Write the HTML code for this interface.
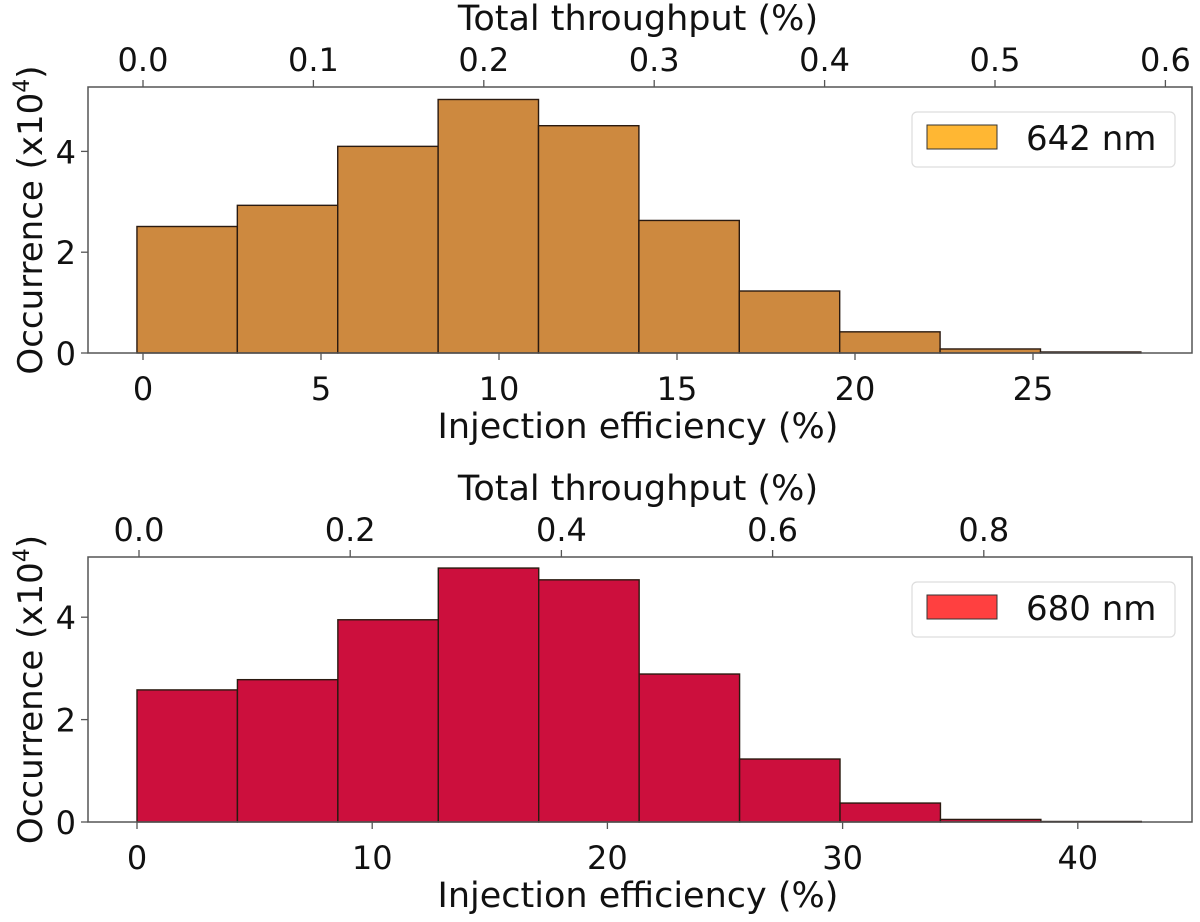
<!DOCTYPE html>
<html><head><meta charset="utf-8">
<style>
body{margin:0;background:#fff;width:1200px;height:917px;overflow:hidden}
svg text{font-family:"DejaVu Sans","Liberation Sans",sans-serif;fill:#111}
</style></head>
<body>
<svg id="chart" width="1200" height="917" viewBox="0 0 1200 917" xmlns="http://www.w3.org/2000/svg"></svg>
<script>
// Panel 1 (642 nm)
const bins642Start = -0.17;
const bins642Width = 2.82;
const counts642 = [2.51, 2.93, 4.10, 5.03, 4.51, 2.63, 1.23, 0.42, 0.08, 0.02];
const xTicks642 = [0, 5, 10, 15, 20, 25];
const topTicks642 = ["0.0","0.1","0.2","0.3","0.4","0.5","0.6"];
const topTickVals642 = [0,0.1,0.2,0.3,0.4,0.5,0.6];
// Panel 2 (680 nm)
const bins680Start = 0;
const bins680Width = 4.27;
const counts680 = [2.58, 2.78, 3.95, 4.96, 4.73, 2.89, 1.23, 0.37, 0.05, 0.01];
const xTicks680 = [0, 10, 20, 30, 40];
const topTicks680 = ["0.0","0.2","0.4","0.6","0.8"];
const topTickVals680 = [0,0.2,0.4,0.6,0.8];
const yTicks = [0, 2, 4];

const svg = document.getElementById('chart');
const NS = 'http://www.w3.org/2000/svg';
function mk(tag, attrs, parent){const e=document.createElementNS(NS,tag);for(const k in attrs)e.setAttribute(k,attrs[k]);(parent||svg).appendChild(e);return e;}

function panel(o){
  const g = mk('g',{});
  
  
  const L=88,R=1192,T=o.top,B=o.bottom;
  const x = v => o.x0px + (v)*o.xs;
  const y = v => B - v*o.ys;
  const tx = v => o.t0px + v*o.ts;
  o.counts.forEach((c,i)=>{
    const x1=x(o.start+i*o.width), x2=x(o.start+(i+1)*o.width);
    const r=mk('rect',{x:x1,y:y(c),width:x2-x1,height:B-y(c),fill:o.color,stroke:'#2a1a10','stroke-width':1.4},g);
    
    
  });
  const f=mk('rect',{x:L,y:T,width:R-L,height:B-T,fill:'none',stroke:'#555','stroke-width':1.5},g);
  
  
  o.xticks.forEach(v=>{
    mk('line',{x1:x(v),x2:x(v),y1:B,y2:B+7,stroke:'#555','stroke-width':1.3},g);
    const t=mk('text',{x:x(v),y:B+47,'font-size':32,'text-anchor':'middle'},g);t.textContent=v;
    
    
  });
  o.tvals.forEach((v,i)=>{
    mk('line',{x1:tx(v),x2:tx(v),y1:T,y2:T-7,stroke:'#555','stroke-width':1.3},g);
    const t=mk('text',{x:tx(v),y:T-16,'font-size':32,'text-anchor':'middle'},g);t.textContent=o.tlabels[i];
    
    
  });
  yTicks.forEach(v=>{
    mk('line',{x1:L,x2:L-7,y1:y(v),y2:y(v),stroke:'#555','stroke-width':1.3},g);
    const t=mk('text',{x:L-12,y:y(v)+12,'font-size':32,'text-anchor':'end'},g);t.textContent=v;
    
    
  });
  const xl=mk('text',{x:638,y:B+85,'font-size':35,'text-anchor':'middle'},g);xl.textContent='Injection efficiency (%)';
  
  
  const tl=mk('text',{x:638,y:T-57,'font-size':35,'text-anchor':'middle'},g);tl.textContent='Total throughput (%)';
  
  
  const cy=(T+B)/2;
  const yl=mk('text',{x:0,y:0,'font-size':34,'text-anchor':'middle',transform:`translate(42,${cy}) rotate(-90)`},g);
  yl.innerHTML='Occurrence (x10<tspan dy="-13" font-size="22">4</tspan><tspan dy="13">)</tspan>';
  
  
  const lg=mk('g',{},g);
  
  
  mk('rect',{x:912,y:T+25,width:263,height:55,rx:5,fill:'#fff',stroke:'#ddd','stroke-width':1.2},lg);
  mk('rect',{x:927,y:T+38,width:70,height:24,fill:o.legColor,stroke:'#333','stroke-width':1},lg);
  const lt=mk('text',{x:1026,y:T+63,'font-size':34},lg);lt.textContent=o.label;
  
  
}
panel({name:'panel-642nm',top:87,bottom:353,x0px:143,xs:35.6,t0px:143,ts:1704,ys:50.4,
  start:bins642Start,width:bins642Width,counts:counts642,xticks:xTicks642,tvals:topTickVals642,tlabels:topTicks642,
  color:'#cd893f',legColor:'#ffb733',label:'642 nm'});
panel({name:'panel-680nm',top:557,bottom:822,x0px:137,xs:23.52,t0px:139,ts:1056,ys:51.2,
  start:bins680Start,width:bins680Width,counts:counts680,xticks:xTicks680,tvals:topTickVals680,tlabels:topTicks680,
  color:'#cc0f3d',legColor:'#ff4040',label:'680 nm'});
</script>
</body></html>
